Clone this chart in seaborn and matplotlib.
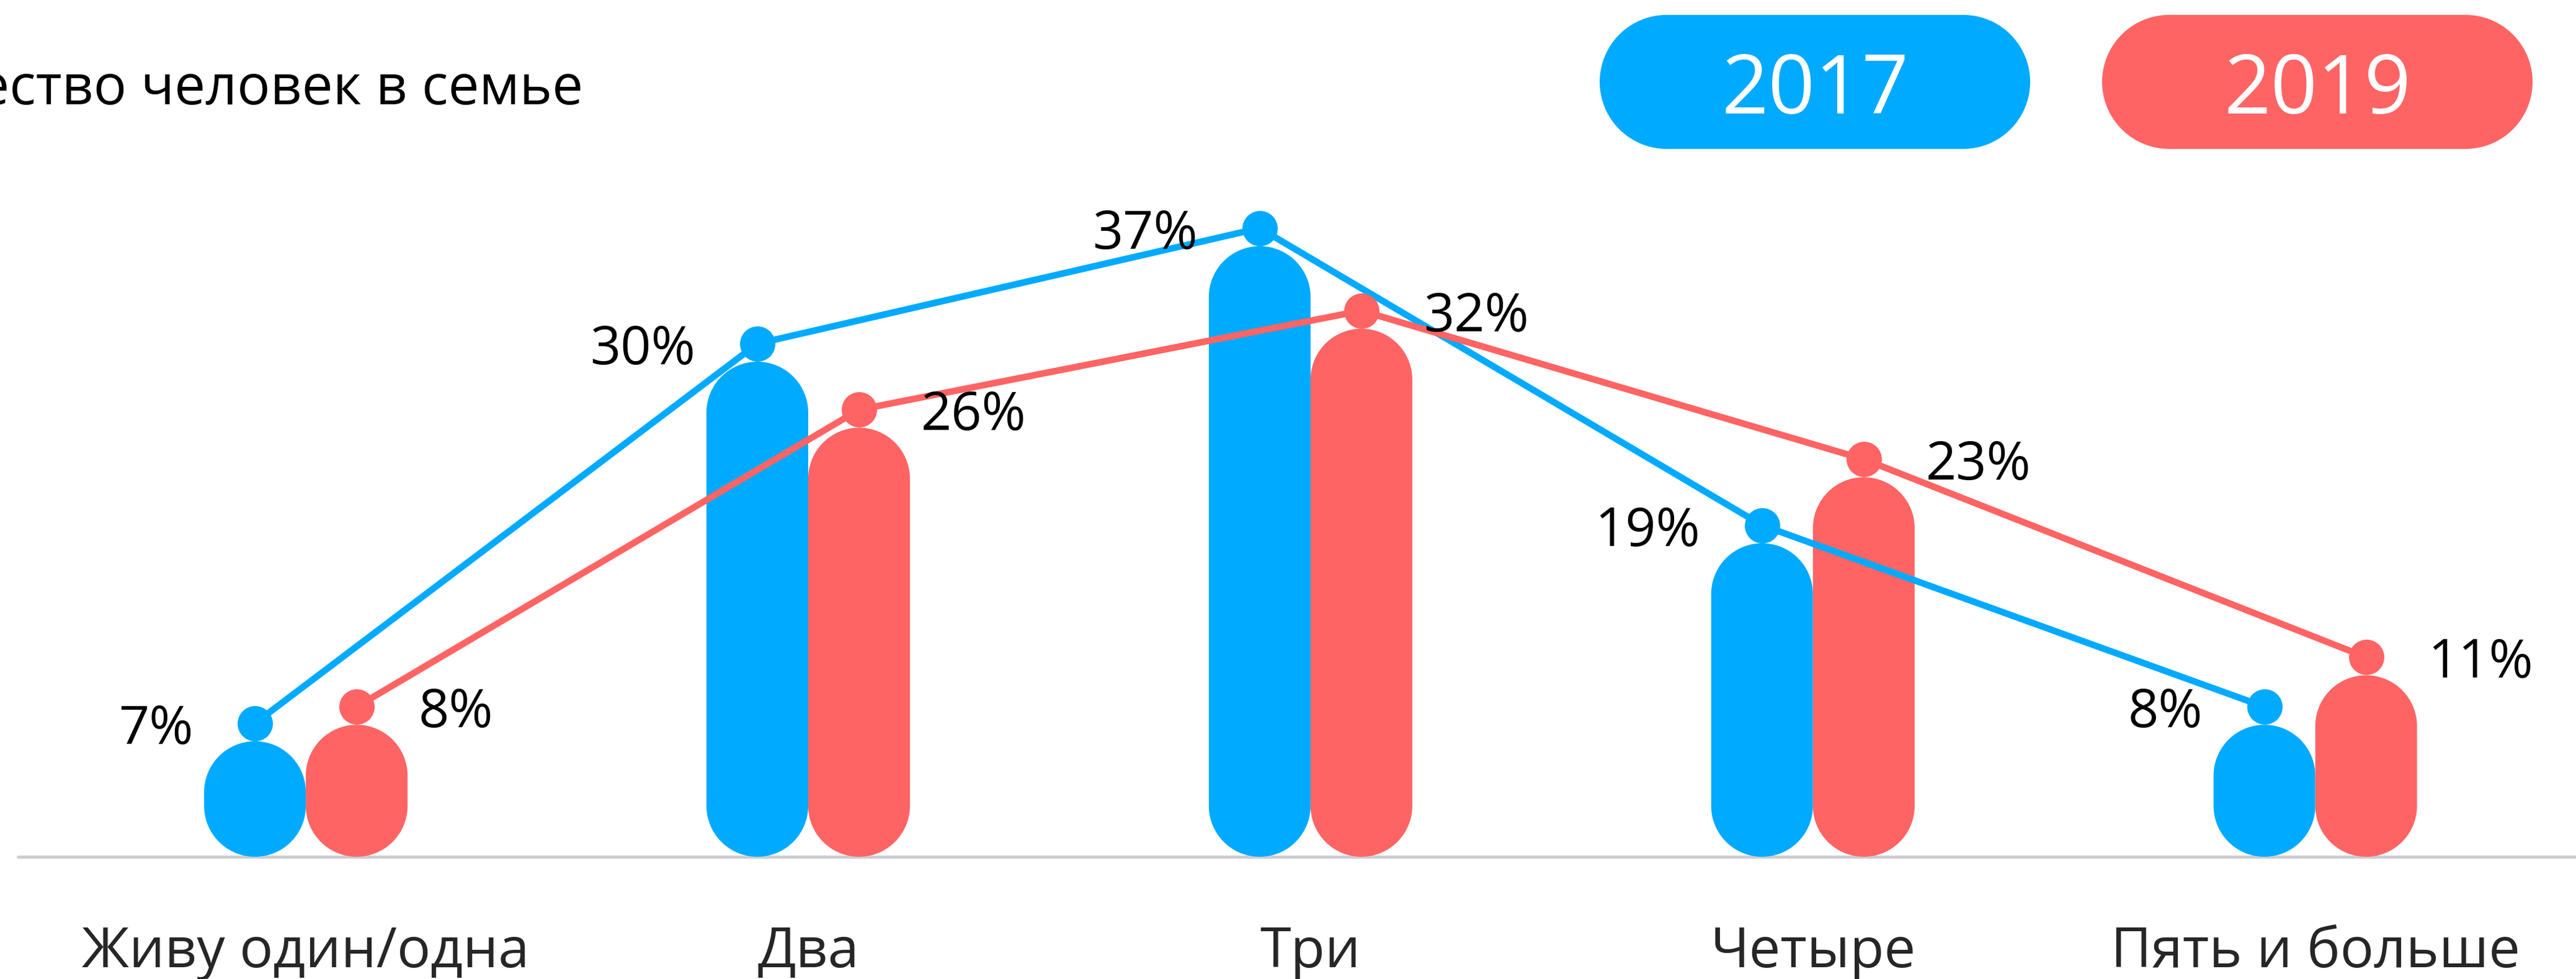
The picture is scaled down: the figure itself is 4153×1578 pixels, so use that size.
import matplotlib
matplotlib.use('Agg')
import matplotlib.pyplot as plt
import matplotlib.transforms as mtransforms
from matplotlib.patches import Polygon
import seaborn as sns
import pandas as pd
import numpy as np

categories = ['Живу один/одна', 'Два', 'Три', 'Четыре', 'Пять и больше']
years = ['2017', '2019']
share_2017 = [7, 30, 37, 19, 8]
share_2019 = [8, 26, 32, 23, 11]
title = 'Количество человек в семье'

colors = {'2017': '#00AAFF', '2019': '#FF6464'}

df = pd.DataFrame({
    'category': categories * 2,
    'year': [years[0]] * len(categories) + [years[1]] * len(categories),
    'share': share_2017 + share_2019,
})


def pill_points(x, y, w, h, rx, ry, vertical=True):
    # outline of a capsule: two half ellipses joined by straight sides
    t = np.linspace(0, np.pi, 60)
    if vertical:
        cx = x + w / 2
        top = np.column_stack([cx + rx * np.cos(t), y + h - ry + ry * np.sin(t)])
        bot = np.column_stack([cx - rx * np.cos(t), y + ry - ry * np.sin(t)])
        return np.vstack([top, bot])
    cy = y + h / 2
    right = np.column_stack([x + w - rx + rx * np.sin(t), cy + ry * np.cos(t)])
    left = np.column_stack([x + rx - rx * np.sin(t), cy - ry * np.cos(t)])
    return np.vstack([right, left])


W, H, DPI = 4153, 1578, 100
sns.set_style('white')
plt.rcParams['font.family'] = ['Open Sans', 'DejaVu Sans']

fig = plt.figure(figsize=(W / DPI, H / DPI), dpi=DPI)
ax = fig.add_axes([29 / W, 197 / H, (W - 29) / W, 1081 / H])

bar_w = 0.2025
sns.barplot(data=df, x='category', y='share', hue='year', hue_order=years,
            palette=colors, width=2 * bar_w, saturation=1, legend=False, ax=ax)

ax.set_xlim(-0.573, 4.519)
ax.set_ylim(0, 1081 / 26.6)

# swap the plain rectangles for pill shaped bars
px_x = ax.bbox.width / (ax.get_xlim()[1] - ax.get_xlim()[0])
px_y = ax.bbox.height / (ax.get_ylim()[1] - ax.get_ylim()[0])
for p in list(ax.patches):
    x, y, w, h = p.get_x(), p.get_y(), p.get_width(), p.get_height()
    fc = p.get_facecolor()
    p.remove()
    rx = w / 2
    ry = rx * px_x / px_y
    ax.add_patch(Polygon(pill_points(x, y, w, h, rx, ry), closed=True,
                         fc=fc, ec='none', zorder=2))

ax.axhline(0, color='#CDCDD1', lw=3.6, zorder=1, clip_on=False)

# lines with dots sitting just above the bars
pos = np.arange(len(categories))
dot_tr = mtransforms.offset_copy(ax.transData, fig=fig, x=0, y=29, units='dots')
for yr, vals, side in [('2017', share_2017, -1), ('2019', share_2019, 1)]:
    xs = pos + side * bar_w / 2
    ax.plot(xs, vals, color=colors[yr], lw=7.6, marker='o', ms=41, mec='none',
            transform=dot_tr, zorder=3, clip_on=False)
    lab_tr = mtransforms.offset_copy(ax.transData, fig=fig, x=side * 100, y=-4, units='dots')
    for xx, v in zip(xs, vals):
        ax.text(xx, v, f'{v}%', transform=lab_tr, ha='right' if side < 0 else 'left',
                va='baseline', fontsize=62, color='black')

ax.set_xticks(pos)
ax.set_xticklabels(categories, fontsize=65)
ax.tick_params(axis='x', length=0, pad=79)
ax.set_yticks([])
ax.set_xlabel('')
ax.set_ylabel('')
sns.despine(ax=ax, left=True, bottom=True)

fig.text(940 / W, 1 - 168 / H, title, ha='right', va='baseline', fontsize=64, color='black')

# legend pills
for yr, x0 in [('2017', 25.79), ('2019', 33.89)]:
    fig.add_artist(Polygon(pill_points(x0, 13.38, 6.94, 2.16, 1.08, 1.08, vertical=False),
                           closed=True, transform=fig.dpi_scale_trans,
                           fc=colors[yr], ec='none'))
    fig.text(x0 + 3.47, 13.95, yr, transform=fig.dpi_scale_trans, ha='center',
             va='baseline', fontsize=95, color='white')

fig.savefig('out.png', dpi=DPI)
